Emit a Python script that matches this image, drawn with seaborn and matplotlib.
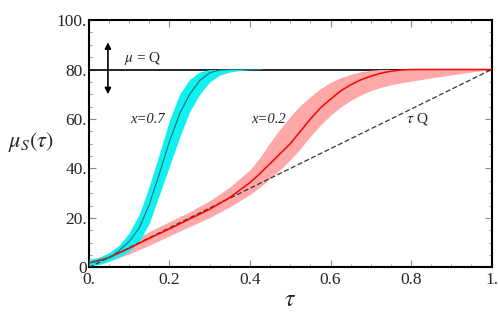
import numpy as np
import pandas as pd
import matplotlib
matplotlib.use('Agg')
import matplotlib.pyplot as plt
import seaborn as sns

# x = 0.7 curve (cyan)
tau_07 = [0, 0.025, 0.05, 0.075, 0.1, 0.125, 0.15, 0.175, 0.2, 0.225, 0.25, 0.275, 0.3, 0.325, 0.35, 0.375, 0.4, 0.43]
mu_07 = [1.8, 2.6, 4.0, 6.8, 10.5, 16, 25.5, 38, 51, 62, 70, 75.5, 78.7, 79.8, 80, 80, 80, 80]
hi_07 = [3.2, 4.0, 6.0, 9, 14, 21.5, 33, 46, 59.5, 70, 76, 79, 80, 80, 80, 80, 80, 80]
lo_07 = [0.5, 1.2, 2.5, 4.2, 6.5, 10.5, 18, 29.5, 41, 52.5, 63, 70, 75, 77.8, 79, 79.6, 79.9, 80]

# x = 0.2 curve (red)
tau_02 = [0, 0.05, 0.1, 0.15, 0.2, 0.25, 0.3, 0.35, 0.4, 0.425, 0.45, 0.475, 0.5, 0.525, 0.55,
          0.575, 0.6, 0.625, 0.65, 0.675, 0.7, 0.725, 0.75, 0.775, 0.8, 0.85, 0.9, 0.95, 1.0]
mu_02 = [1.8, 4.0, 7.8, 11.8, 15.6, 19.6, 23.5, 28.3, 34.3, 38, 42, 46, 50, 55, 60,
         64.5, 68, 71.3, 73.8, 75.8, 77.3, 78.5, 79.3, 79.8, 80, 80, 80, 80, 80]
hi_02 = [3.0, 5.5, 10, 14.5, 18.5, 22.5, 27, 32.5, 39.5, 44.5, 50.5, 56, 61, 65.5, 69,
         72.3, 74.8, 76.7, 78, 79.1, 79.7, 80, 80, 80, 80, 80, 80, 80, 80]
lo_02 = [0.6, 2.5, 5.5, 9, 12.8, 16.5, 20.2, 24.5, 29.5, 32.5, 36, 39.5, 43.5, 48, 53,
         57.5, 61.5, 64.8, 67.5, 69.7, 71.5, 72.8, 73.8, 74.6, 75.3, 76.6, 77.8, 79, 80]

Q = 80
tau_line = [0, 1]

x_ticks = [0, 0.2, 0.4, 0.6, 0.8, 1.0]
x_labels = ['0.', '0.2', '0.4', '0.6', '0.8', '1.']
y_ticks = [0, 20, 40, 60, 80, 100]
y_labels = ['0', '20.', '40.', '60.', '80.', '100.']

sns.set_style('ticks')
plt.rcParams['font.family'] = ['Liberation Serif', 'DejaVu Serif']
plt.rcParams['mathtext.fontset'] = 'stix'

fig = plt.figure(figsize=(4.98, 3.18), dpi=100)
ax = fig.add_axes([0.1787, 0.159, 0.8083, 0.778])

# mu = Q line
ax.axhline(Q, color='black', lw=1.2, zorder=1)

# bands
ax.fill_between(tau_02, lo_02, hi_02, color='#ffa8a8', lw=0, zorder=2)
ax.fill_between(tau_07, lo_07, hi_07, color='#0ff0f0', lw=0, zorder=3)

# tau Q dashed line
sns.lineplot(x=tau_line, y=[t * Q for t in tau_line], ax=ax, color='#333333',
             lw=0.9, linestyle=(0, (4, 2)), zorder=4)

sns.lineplot(x=tau_02, y=mu_02, ax=ax, color='red', lw=1.1, zorder=5)
sns.lineplot(x=tau_07, y=mu_07, ax=ax, color='#2a6e70', lw=0.8, zorder=5)

ax.annotate('', xy=(0.047, 70), xytext=(0.047, 91),
            arrowprops=dict(arrowstyle='<|-|>', color='black', lw=1.2,
                            mutation_scale=9, shrinkA=0, shrinkB=0))
ax.text(0.087, 84.6, r'$\mu$ = Q', fontsize=11, va='center', ha='left')
ax.text(0.145, 59.8, 'x=0.7', fontsize=10.5, style='italic', va='center', ha='center')
ax.text(0.445, 59.8, 'x=0.2', fontsize=10.5, style='italic', va='center', ha='center')
ax.text(0.815, 59.8, r'$\tau$ Q', fontsize=11, va='center', ha='center')

ax.set_xlim(0, 1)
ax.set_ylim(0, 100)
ax.set_xticks(x_ticks)
ax.set_xticklabels(x_labels)
ax.set_yticks(y_ticks)
ax.set_yticklabels(y_labels)
ax.set_xticks(np.arange(0, 1.0001, 0.05), minor=True)
ax.set_yticks(np.arange(0, 100.001, 5), minor=True)
ax.tick_params(which='both', direction='in', top=True, right=True, color='0.55')
ax.tick_params(which='major', length=5, width=0.8, labelsize=12.5)
ax.tick_params(which='minor', length=2.5, width=0.6)
ax.tick_params(axis='x', pad=3)
ax.tick_params(axis='y', pad=1.5)

for s in ax.spines.values():
    s.set_linewidth(1.5)
    s.set_color('black')

ax.set_xlabel(r'$\tau$', fontsize=17, labelpad=2)
ax.set_ylabel(r'$\mu_S(\tau)$', fontsize=16, rotation=0)
ax.yaxis.set_label_coords(-0.145, 0.46)

fig.savefig('out.png', dpi=100)
